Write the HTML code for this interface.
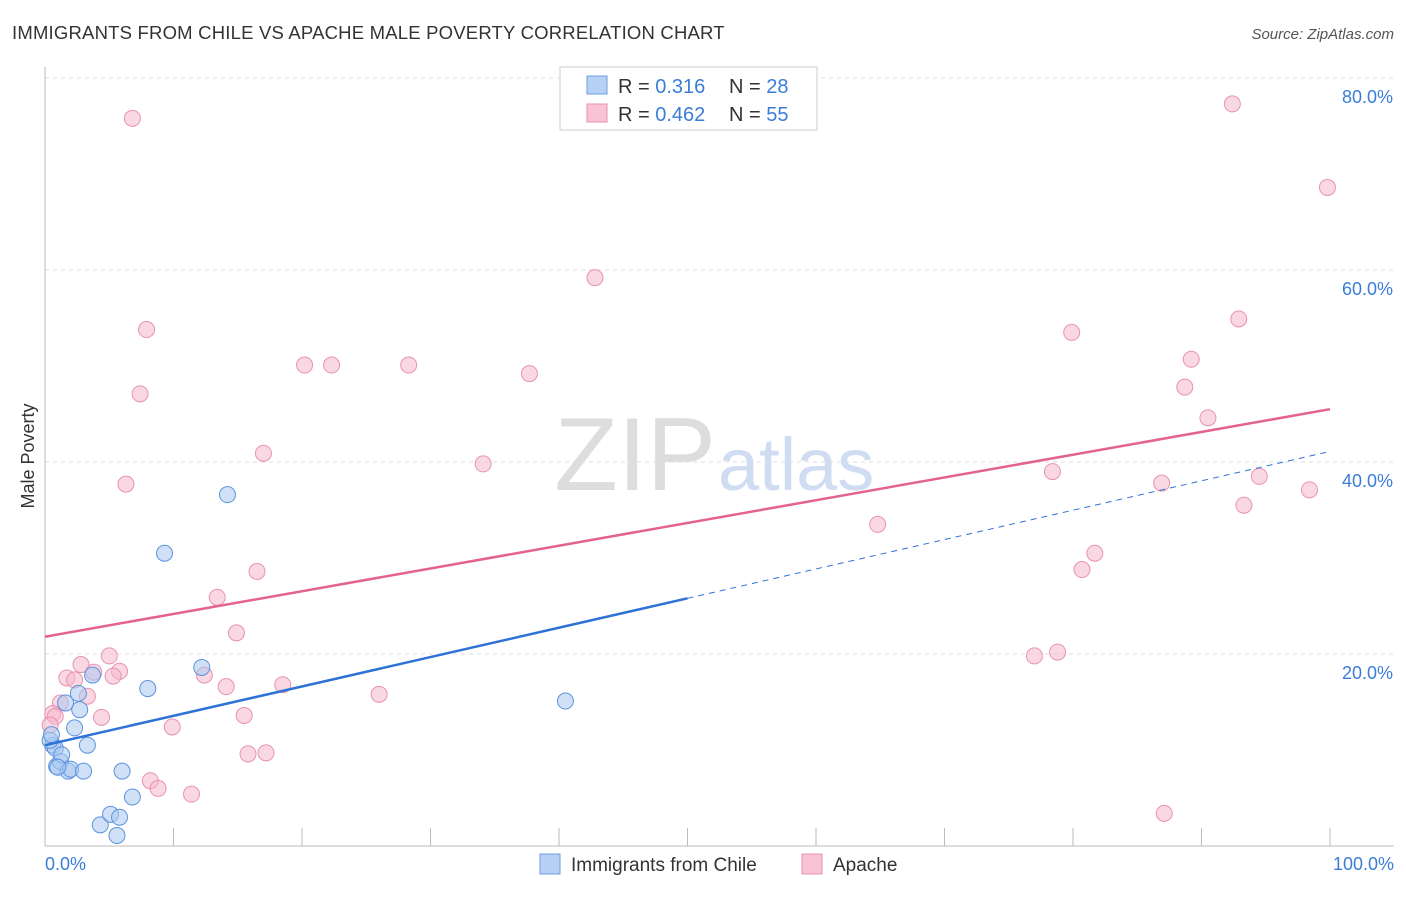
<!DOCTYPE html>
<html><head><meta charset="utf-8">
<style>
body{margin:0;background:#fff;font-family:"Liberation Sans",sans-serif;}
svg text{font-family:"Liberation Sans",sans-serif;}
</style></head>
<body>
<svg id="chart" width="1406" height="892" xmlns="http://www.w3.org/2000/svg">
<text x="12" y="39" font-size="18.5" letter-spacing="0.2" fill="#333">IMMIGRANTS FROM CHILE VS APACHE MALE POVERTY CORRELATION CHART</text>
<text x="1394" y="39" font-size="15" fill="#555" font-style="italic" text-anchor="end">Source: ZipAtlas.com</text>
<text x="716" y="490" font-size="104" fill="#ddd" text-anchor="end" font-family="Liberation Serif">ZIP</text>
<text x="718" y="490" font-size="74" fill="#cfdcf2">atlas</text>
<text transform="translate(34,456) rotate(-90)" font-size="18" fill="#333" text-anchor="middle">Male Poverty</text>
<g id="grid"></g><g id="marks"></g>
<g>
<rect x="560" y="67" width="257" height="63" fill="#fff" stroke="#ccc"/>
<rect x="587" y="76" width="20" height="18" fill="#b7d1f5" stroke="#6a9fe0"/>
<rect x="587" y="104" width="20" height="18" fill="#f8c4d4" stroke="#e892b0"/>
<text x="618" y="93" font-size="20" fill="#333">R = <tspan fill="#3b7dd8">0.316</tspan></text>
<text x="729" y="93" font-size="20" fill="#333">N = <tspan fill="#3b7dd8">28</tspan></text>
<text x="618" y="121" font-size="20" fill="#333">R = <tspan fill="#3b7dd8">0.462</tspan></text>
<text x="729" y="121" font-size="20" fill="#333">N = <tspan fill="#3b7dd8">55</tspan></text>
</g>
<g>
<rect x="540" y="854" width="20" height="20" fill="#b7d1f5" stroke="#6a9fe0"/>
<text x="571" y="871" font-size="19" fill="#333">Immigrants from Chile</text>
<rect x="802" y="854" width="20" height="20" fill="#f8c4d4" stroke="#e892b0"/>
<text x="833" y="871" font-size="19" fill="#333">Apache</text>
</g>
</svg>
<script>
const yTicks=[20,40,60,80];
const yTickLabels=["20.0%","40.0%","60.0%","80.0%"];
const blueX=[0.6,0.8,0.9,1.2,1.3,1.6,1.8,2.0,2.3,2.6,2.7,3.0,3.3,3.7,4.3,5.1,5.6,5.8,6.0,6.8,8.0,9.3,12.2,14.2,40.5,0.4,0.5,1.0];
const blueY=[10.5,10.2,8.3,8.8,9.5,14.9,7.8,8.0,12.3,15.9,14.2,7.8,10.5,17.8,2.2,3.3,1.1,3.0,7.8,5.1,16.4,30.5,18.6,36.6,15.1,11.0,11.6,8.2];
const pinkX=[6.8,7.9,7.4,6.3,17.0,20.2,22.3,28.3,37.7,42.8,34.1,16.5,13.4,14.9,5.0,2.8,3.8,5.8,5.3,1.7,2.3,1.2,3.3,0.6,0.8,0.4,4.4,12.4,14.1,18.5,15.5,9.9,8.2,8.8,11.4,15.8,17.2,26.0,64.8,78.4,79.9,77.0,78.8,80.7,81.7,86.9,88.7,89.2,90.5,92.4,92.9,93.3,94.5,98.4,99.8,87.1];
const pinkY=[75.8,53.8,47.1,37.7,40.9,50.1,50.1,50.1,49.2,59.2,39.8,28.6,25.9,22.2,19.8,18.9,18.1,18.2,17.7,17.5,17.3,14.9,15.6,13.8,13.5,12.6,13.4,17.8,16.6,16.8,13.6,12.4,6.8,6.0,5.4,9.6,9.7,15.8,33.5,39.0,53.5,19.8,20.2,28.8,30.5,37.8,47.8,50.7,44.6,77.3,54.9,35.5,38.5,37.1,68.6,3.4];
const blueTrend=[10.5,41.1];
const pinkTrend=[21.8,45.5];
const NS="http://www.w3.org/2000/svg";
const sx=v=>45+v*12.85, sy=v=>846-v*9.6;
function mk(tag,attrs,parent){const e=document.createElementNS(NS,tag);for(const k in attrs)e.setAttribute(k,attrs[k]);parent.appendChild(e);return e;}
const grid=document.getElementById('grid'), marks=document.getElementById('marks');
yTicks.forEach((t,i)=>{
 const l=mk('line',{x1:45,x2:1394,y1:sy(t),y2:sy(t),stroke:'#ddd','stroke-dasharray':'4,4'},grid);
 
 
 const tx=mk('text',{x:1393,y:sy(t)+25,'font-size':18,fill:'#3b7dd8','text-anchor':'end'},grid);
 tx.textContent=yTickLabels[i];
 
 
});
const ax=mk('line',{x1:45,x2:45,y1:67,y2:846,stroke:'#bbb'},grid);


const bx=mk('line',{x1:45,x2:1394,y1:846,y2:846,stroke:'#bbb'},grid);


for(let i=0;i<=10;i++){const t=mk('line',{x1:sx(i*10),x2:sx(i*10),y1:828,y2:846,stroke:'#bbb'},grid);
 
 }
[["0.0%",45,"start"],["100.0%",1394,"end"]].forEach(a=>{const t=mk('text',{x:a[1],y:870,'font-size':18,fill:'#3b7dd8','text-anchor':a[2]},grid);t.textContent=a[0];
 
 });
pinkX.forEach((x,i)=>{const c=mk('circle',{cx:sx(x),cy:sy(pinkY[i]),r:8,fill:'#f5b8cc','fill-opacity':0.55,stroke:'#e892b0','stroke-width':1},marks);
 
 });
blueX.forEach((x,i)=>{const c=mk('circle',{cx:sx(x),cy:sy(blueY[i]),r:8,fill:'#a9c8f0','fill-opacity':0.55,stroke:'#5b94dd','stroke-width':1},marks);
 
 });
const bAt=v=>blueTrend[0]+(blueTrend[1]-blueTrend[0])*v/100;
const l1=mk('line',{x1:sx(0),y1:sy(bAt(0)),x2:sx(50),y2:sy(bAt(50)),stroke:'#2f72d6','stroke-width':2.5},marks);


const l2=mk('line',{x1:sx(50),y1:sy(bAt(50)),x2:sx(100),y2:sy(bAt(100)),stroke:'#2f72d6','stroke-width':1,'stroke-dasharray':'6,5'},marks);


const l3=mk('line',{x1:sx(0),y1:sy(pinkTrend[0]),x2:sx(100),y2:sy(pinkTrend[1]),stroke:'#e4628f','stroke-width':2.5},marks);


</script>
</body></html>
